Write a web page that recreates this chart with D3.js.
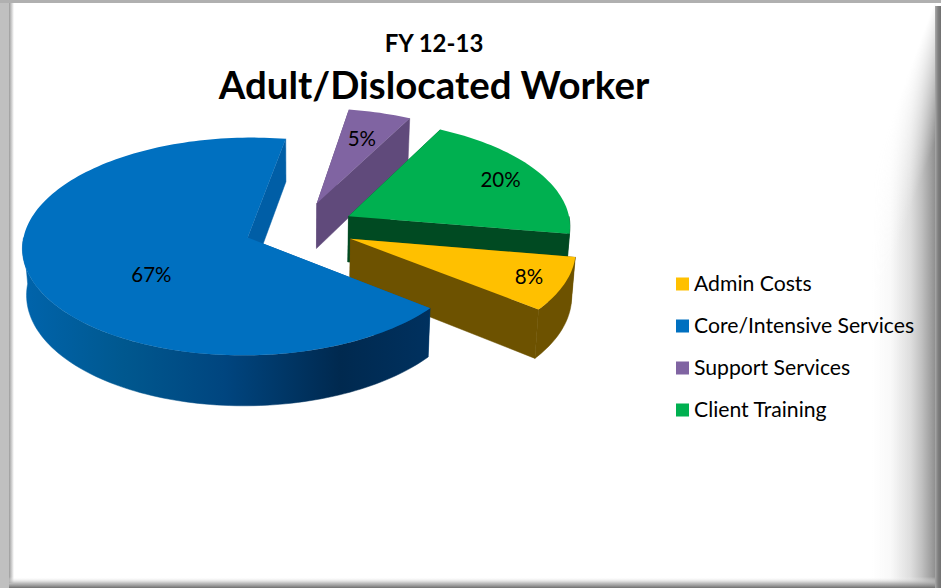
<!DOCTYPE html>
<html>
<head>
<meta charset="utf-8">
<script src="https://cdn.jsdelivr.net/npm/d3@7/dist/d3.min.js"></script>
<style>
html,body{margin:0;padding:0;background:#fff;overflow:hidden}
svg{display:block}
text{font-family:Lato,"Open Sans",sans-serif;fill:#000}
</style>
</head>
<body>
<svg id="chart" width="941" height="588"></svg>
<script>
// Chart content
const titleLines = ["FY 12-13", "Adult/Dislocated Worker"];
const categories = ["Admin Costs", "Core/Intensive Services", "Support Services", "Client Training"];
const shares = [8, 67, 5, 20];
const topColors = ["#ffc000", "#0070c0", "#8064a2", "#00b050"];
const wallColors = ["#6d5200", "url(#coreWall)", "#604a7b", "#004a22"];
const innerWallColors = ["#6d5200", "#005ea6", "#604a7b", "#004a22"];
const paintOrder = [2, 3, 0, 1];           // back slices first
const labelReach = [0.84, 0.53, 0.70, 0.80]; // label distance from each slice tip, in radii
const labelTurn = [0, -18, 0, 0];            // label angle offset from the slice bisector, degrees

const width = 941, height = 588;
const svg = d3.select("#chart");
const defs = svg.append("defs");

// Perspective tilt of the pie
const rad = d => d * Math.PI / 180;
const startDegrees = 99.5;
const centerX = 299.5, centerY = 228, radiusX = 222.5, radiusY = 106.6;
const perspective = 0.081, thickness = 46, taper = 0.015, explode = 0.248;
const sx = d3.scaleLinear().domain([0, 1]).range([centerX, centerX + radiusX]);
const sy = d3.scaleLinear().domain([0, 1]).range([centerY, centerY + radiusY]);

// Unit disc point to screen; z is 0 on the top face and 1 on the bottom face
function project(u, v, z) {
  const w = 1 - perspective * v;
  const px = sx(u / w) - z * taper * (sx(u / w) - centerX);
  return [px, sy(v / w) + z * thickness / w];
}

const pie = d3.pie().sort(null).value(d => d)
  .startAngle(rad(startDegrees)).endAngle(rad(startDegrees + 360));
const slices = pie(shares);

const line = d3.line();
const discPoint = (s, angle, r) => {
  const mid = (s.startAngle + s.endAngle) / 2;
  return [explode * Math.sin(mid) + r * Math.sin(angle), -explode * Math.cos(mid) - r * Math.cos(angle)];
};
const arcAngles = (a0, a1) => {
  const n = Math.max(2, Math.ceil((a1 - a0) / rad(1.5)));
  return d3.range(n + 1).map(i => a0 + (a1 - a0) * i / n);
};

// Shading of the large slice's rim
const wallGrad = defs.append("linearGradient").attr("id", "coreWall")
  .attr("gradientUnits", "userSpaceOnUse").attr("x1", 21).attr("x2", 430).attr("y1", 0).attr("y2", 0);
[[0, "#0064ac"], [0.25, "#00588f"], [0.5, "#00457f"], [0.78, "#00294f"], [1, "#00315f"]]
  .forEach(([o, c]) => wallGrad.append("stop").attr("offset", o).attr("stop-color", c));

// Frame gradients
const addGrad = (id, x1, y1, x2, y2, stops) => {
  const g = defs.append("linearGradient").attr("id", id)
    .attr("x1", x1).attr("y1", y1).attr("x2", x2).attr("y2", y2);
  stops.forEach(([o, c, a]) => g.append("stop").attr("offset", o).attr("stop-color", c).attr("stop-opacity", a === undefined ? 1 : a));
  return g;
};
addGrad("rightShade", 0, 0, 1, 0, [[0, "#c8c8c8", 0], [0.3, "#c8c8c8", 0.12], [0.6, "#c8c8c8", 0.6], [0.8, "#bbbbbb", 1], [0.92, "#a0a0a0", 1], [1, "#8c8c8c", 1]]);
// The shading narrows toward the upper right corner along a slanted edge
addGrad("rightFade", 902, 90, 948, 107, [[0, "#000"], [1, "#fff"]]).attr("gradientUnits", "userSpaceOnUse");
addGrad("rightEdge", 0, 0, 1, 0, [[0, "#aaa"], [0.5, "#808080"], [1, "#707070"]]);
addGrad("leftEdge", 0, 0, 1, 0, [[0, "#9a9a9a"], [1, "#fff"]]);
addGrad("bottomEdge", 0, 0, 0, 1, [[0, "#fff", 0], [0.55, "#b0b0b0", 0.8], [1, "#707070", 1]]);
defs.append("mask").attr("id", "rightMask").attr("maskUnits", "userSpaceOnUse")
  .attr("x", 860).attr("y", 0).attr("width", 81).attr("height", height)
  .append("rect")
  .attr("x", 860).attr("y", 0).attr("width", 81).attr("height", height).attr("fill", "url(#rightFade)");

const frame = svg.append("g");
frame.append("rect").attr("width", width).attr("height", height).attr("fill", "#fff");
frame.append("rect").attr("x", 872).attr("y", 0).attr("width", 64).attr("height", height)
  .attr("fill", "url(#rightShade)").attr("mask", "url(#rightMask)");
frame.append("rect").attr("x", 0).attr("y", 0).attr("width", 9).attr("height", height).attr("fill", "#c0c0c0");
frame.append("rect").attr("x", 9).attr("y", 3).attr("width", 5).attr("height", height - 8).attr("fill", "url(#leftEdge)");
frame.append("rect").attr("x", 9).attr("y", 577).attr("width", width - 9).attr("height", 11).attr("fill", "url(#bottomEdge)");
frame.append("rect").attr("x", 0).attr("y", 0).attr("width", width).attr("height", 3).attr("fill", "#b0b0b0");
frame.append("rect").attr("x", 935).attr("y", 6).attr("width", 6).attr("height", height - 6).attr("fill", "url(#rightEdge)");

// Pie slices: radial walls, front rim, then top face
const pieLayer = svg.append("g");
paintOrder.forEach(i => {
  const s = slices[i];
  const g = pieLayer.append("g");
  const tip = discPoint(s, s.startAngle, 0);
  const radialWall = a => {
    const p = discPoint(s, a, 1);
    return line([project(...tip, 0), project(...p, 0), project(...p, 1), project(...tip, 1)]) + "Z";
  };
  g.append("path").attr("d", radialWall(s.startAngle)).attr("fill", innerWallColors[i]);
  g.append("path").attr("d", radialWall(s.endAngle)).attr("fill", innerWallColors[i])
    .attr("stroke", innerWallColors[i]).attr("stroke-width", 0.5);

  // Only the part of the rim turned toward the viewer is drawn
  const turn = Math.floor(s.startAngle / (2 * Math.PI));
  const a0 = Math.max(s.startAngle, rad(90) + turn * 2 * Math.PI);
  const a1 = Math.min(s.endAngle, rad(270) + turn * 2 * Math.PI);
  if (a1 > a0) {
    const rim = arcAngles(a0, a1).map(a => discPoint(s, a, 1));
    g.append("path")
      .attr("d", line(rim.map(p => project(...p, 0)).concat(rim.slice().reverse().map(p => project(...p, 1)))) + "Z")
      .attr("fill", wallColors[i]).attr("stroke", wallColors[i]).attr("stroke-width", 0.5);
  }

  const top = arcAngles(s.startAngle, s.endAngle).map(a => project(...discPoint(s, a, 1), 0));
  g.append("path").attr("d", line([project(...tip, 0), ...top]) + "Z").attr("fill", topColors[i]);
});

// Percent labels
const labelLayer = svg.append("g");
slices.forEach((s, i) => {
  const mid = (s.startAngle + s.endAngle) / 2 + rad(labelTurn[i]);
  const [lx, ly] = project(...discPoint(s, mid, labelReach[i]), 0);
  labelLayer.append("text").attr("x", lx).attr("y", ly).attr("dy", "0.35em")
    .attr("text-anchor", "middle").attr("font-size", 20.5).text(d3.format(".0f")(s.value) + "%");
});

// Titles
svg.append("text").attr("x", 434).attr("y", 52).attr("text-anchor", "middle")
  .attr("font-size", 24).attr("font-weight", 700).text(titleLines[0]);
svg.append("text").attr("x", 434).attr("y", 99).attr("text-anchor", "middle")
  .attr("font-size", 38.4).attr("font-weight", 700).text(titleLines[1]);

// Legend
const legendY = d3.scalePoint().domain(categories).range([284, 410]);
const legend = svg.append("g").selectAll("g").data(categories).join("g")
  .attr("transform", d => `translate(676,${legendY(d)})`);
legend.append("rect").attr("y", -6.5).attr("width", 13).attr("height", 13)
  .attr("fill", (d, i) => topColors[i]);
legend.append("text").attr("x", 18).attr("dy", "0.35em").attr("font-size", 21.2).text(d => d);
</script>
</body>
</html>
